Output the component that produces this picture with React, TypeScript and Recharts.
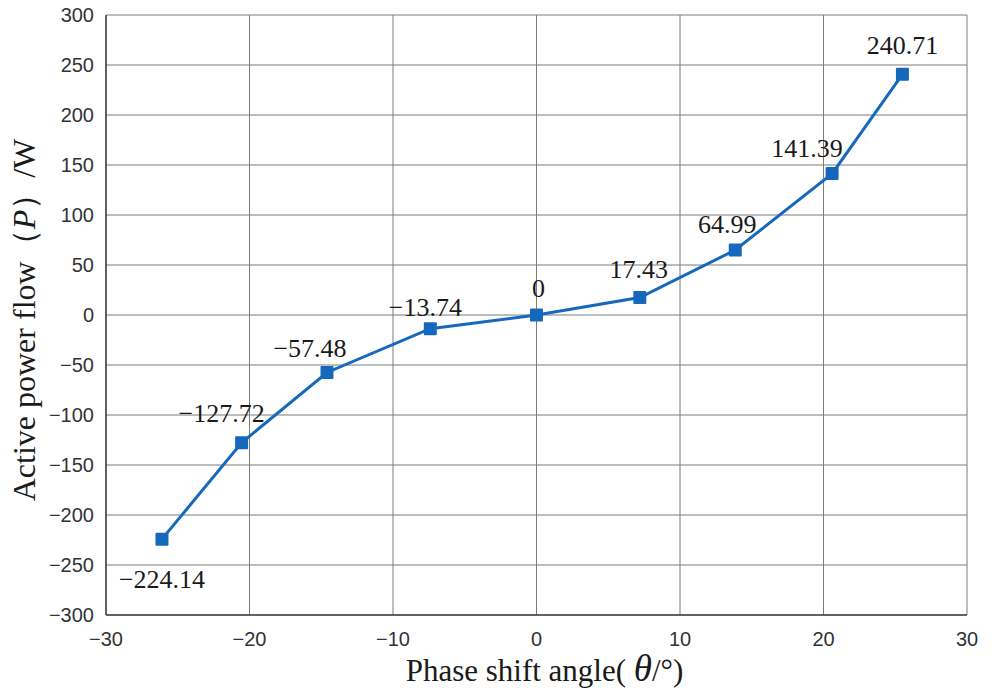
import React from 'react'
import { LineChart, Line, XAxis, YAxis, CartesianGrid, LabelList, Label } from 'recharts'

const angles = [-26.1, -20.55, -14.6, -7.4, 0, 7.2, 13.85, 20.6, 25.5]
const power = [-224.14, -127.72, -57.48, -13.74, 0, 17.43, 64.99, 141.39, 240.71]
const xTicks = [-30, -20, -10, 0, 10, 20, 30]
const yTicks = [-300, -250, -200, -150, -100, -50, 0, 50, 100, 150, 200, 250, 300]

const data = angles.map((a, i) => ({ angle: a, p: power[i] }))

// label nudges (dx, dy) relative to the marker, text baseline
const labelShift: [number, number][] = [
  [0, 49], [-20, -21], [-17, -15], [-5, -13], [2, -18], [-1, -20], [-8, -17], [-25, -17], [0, -20],
]

const fmt = (v: number) => (v < 0 ? `\u2212${Math.abs(v)}` : `${v}`)
const serif = '"Liberation Serif", "Times New Roman", serif'
const sans = '"Liberation Sans", Arial, sans-serif'
const blue = '#1668bd'

const Marker = (props: any) => {
  const { cx, cy, index } = props
  return <rect key={index} x={cx - 6.5} y={cy - 6.5} width={13} height={13} fill={blue} rx={1} />
}

const PointLabel = (props: any) => {
  const { x, y, value, index } = props
  const [dx, dy] = labelShift[index] || [0, -20]
  return (
    <text x={x + dx} y={y + dy} textAnchor="middle" fontFamily={serif} fontSize={26} fill="#1a1a1a">
      {fmt(Number(value))}
    </text>
  )
}

const YTitle = (props: any) => {
  const { viewBox } = props
  const cx = 24
  const cy = viewBox.y + viewBox.height / 2 + 5
  return (
    <text x={cx} y={cy} transform={`rotate(-90 ${cx} ${cy})`} textAnchor="middle" dominantBaseline="central"
      fontFamily={serif} fontSize={32} fill="#1a1a1a">
      Active power flow（<tspan fontStyle="italic">P</tspan>）/W
    </text>
  )
}

const XTitle = (props: any) => {
  const { viewBox } = props
  const cx = viewBox.x + viewBox.width / 2 + 8
  return (
    <text x={cx} y={681} textAnchor="middle" fontFamily={serif} fontSize={31} fill="#1a1a1a">
      Phase shift angle( <tspan fontStyle="italic" fontSize={37}>θ</tspan>/°)
    </text>
  )
}

export default function App() {
  return (
    <div style={{ position: 'absolute', left: 0, top: 0, width: 992, height: 690, background: '#fff' }}>
      <LineChart width={992} height={690} data={data} margin={{ top: 15, right: 25, bottom: 0, left: 0 }}>
        <CartesianGrid stroke="#7a7a7a" strokeWidth={1} horizontalValues={yTicks} verticalValues={xTicks} />
        <XAxis dataKey="angle" type="number" domain={[-30, 30]} ticks={xTicks} tickFormatter={fmt}
          tickLine={false} axisLine={{ stroke: '#444', strokeWidth: 1.5 }} height={75}
          tick={{ fill: '#333', fontSize: 20, fontFamily: sans, dy: 9 }} allowDataOverflow>
          <Label content={XTitle} />
        </XAxis>
        <YAxis type="number" domain={[-300, 300]} ticks={yTicks} tickFormatter={fmt} width={106}
          tickLine={false} axisLine={{ stroke: '#444', strokeWidth: 1.5 }}
          tick={{ fill: '#333', fontSize: 20, fontFamily: sans, dx: -4 }} allowDataOverflow>
          <Label content={YTitle} />
        </YAxis>
        <Line dataKey="p" stroke={blue} strokeWidth={3} dot={Marker} activeDot={false}
          isAnimationActive={false}>
          <LabelList dataKey="p" content={PointLabel} />
        </Line>
      </LineChart>
    </div>
  )
}
